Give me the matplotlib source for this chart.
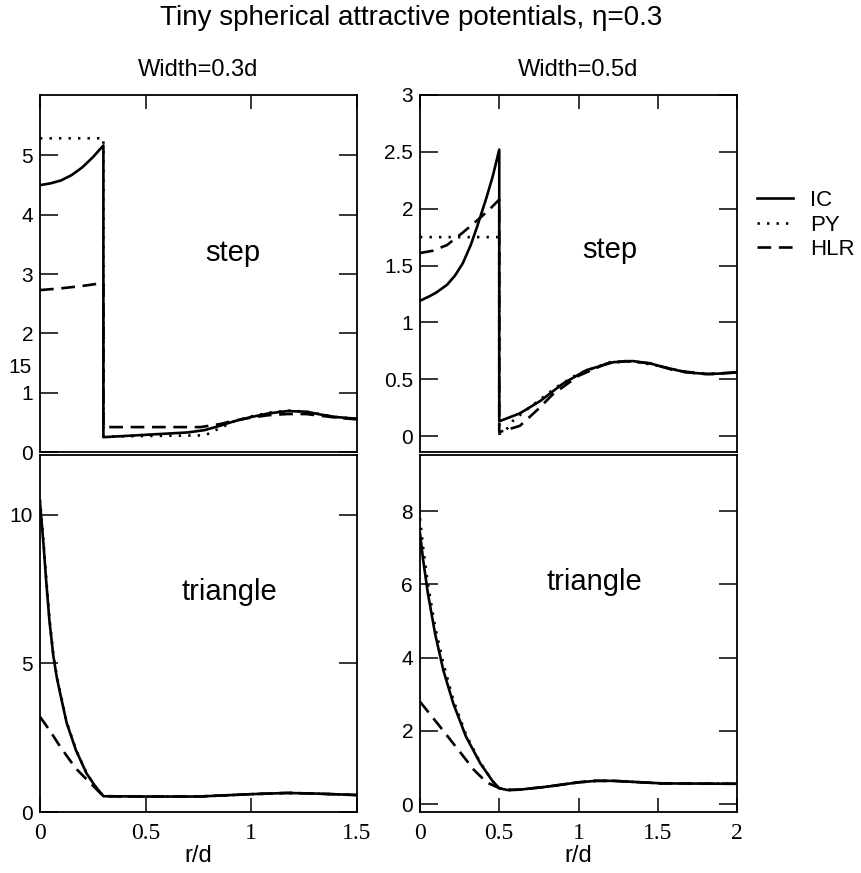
import matplotlib.pyplot as plt
from matplotlib.lines import Line2D

plt.rcParams['font.family'] = ['Liberation Sans', 'DejaVu Sans']

# ---- width 0.3d, step potential ----
r_s3_ic = [0, 0.05, 0.1, 0.15, 0.2, 0.25, 0.3, 0.3, 0.4, 0.5, 0.6, 0.7, 0.78, 0.85, 0.92, 1.0, 1.08, 1.17, 1.26, 1.33, 1.4, 1.5]
g_s3_ic = [4.50, 4.53, 4.58, 4.67, 4.80, 4.97, 5.17, 0.25, 0.27, 0.29, 0.31, 0.33, 0.37, 0.44, 0.52, 0.59, 0.65, 0.69, 0.68, 0.63, 0.59, 0.56]
r_s3_py = [0, 0.28, 0.3, 0.3, 0.5, 0.78, 0.85, 0.92, 1.0, 1.08, 1.17, 1.26, 1.4, 1.5]
g_s3_py = [5.29, 5.29, 5.29, 0.26, 0.27, 0.28, 0.40, 0.52, 0.60, 0.66, 0.70, 0.68, 0.59, 0.56]
r_s3_hlr = [0, 0.1, 0.2, 0.3, 0.3, 0.5, 0.76, 0.85, 0.92, 1.0, 1.08, 1.17, 1.26, 1.4, 1.5]
g_s3_hlr = [2.73, 2.76, 2.80, 2.85, 0.42, 0.42, 0.42, 0.47, 0.53, 0.58, 0.62, 0.64, 0.64, 0.58, 0.55]

# ---- width 0.5d, step potential ----
r_s5_ic = [0, 0.06, 0.1, 0.17, 0.22, 0.27, 0.32, 0.36, 0.42, 0.46, 0.5, 0.5, 0.63, 0.76, 0.9, 1.05, 1.22, 1.34, 1.45, 1.53, 1.68, 1.83, 2.0]
g_s5_ic = [1.19, 1.23, 1.26, 1.33, 1.41, 1.52, 1.68, 1.84, 2.10, 2.29, 2.52, 0.13, 0.20, 0.31, 0.46, 0.58, 0.65, 0.66, 0.64, 0.61, 0.56, 0.545, 0.56]
r_s5_py = [0, 0.5, 0.5, 0.5, 0.53, 0.59, 0.69, 0.86, 1.0, 1.2, 1.34, 1.53, 1.68, 1.83, 2.0]
g_s5_py = [1.75, 1.75, 0.06, 0.02, 0.03, 0.14, 0.25, 0.43, 0.55, 0.65, 0.66, 0.61, 0.56, 0.545, 0.56]
r_s5_hlr = [0, 0.08, 0.17, 0.27, 0.38, 0.45, 0.5, 0.5, 0.63, 0.74, 0.84, 1.0, 1.18, 1.3, 1.45, 1.6, 1.8, 2.0]
g_s5_hlr = [1.61, 1.63, 1.68, 1.79, 1.92, 2.01, 2.08, 0.035, 0.09, 0.23, 0.37, 0.53, 0.64, 0.66, 0.64, 0.58, 0.545, 0.56]

# ---- width 0.3d, triangle potential ----
r_t3_ic = [0, 0.016, 0.03, 0.045, 0.063, 0.08, 0.095, 0.126, 0.17, 0.22, 0.26, 0.3, 0.5, 0.75, 1.0, 1.17, 1.3, 1.5]
g_t3_ic = [10.4, 9.05, 7.7, 6.4, 5.25, 4.5, 4.0, 3.0, 2.08, 1.3, 0.88, 0.53, 0.52, 0.52, 0.60, 0.64, 0.62, 0.57]
r_t3_py = [0, 0.016, 0.03, 0.045, 0.063, 0.08, 0.095, 0.126, 0.17, 0.22, 0.26, 0.3, 0.5, 0.75, 1.0, 1.17, 1.3, 1.5]
g_t3_py = [10.5, 9.15, 7.8, 6.5, 5.3, 4.55, 4.05, 3.02, 2.1, 1.31, 0.88, 0.53, 0.52, 0.52, 0.60, 0.64, 0.62, 0.57]
r_t3_hlr = [0, 0.05, 0.095, 0.17, 0.24, 0.3, 0.5, 0.75, 1.0, 1.17, 1.3, 1.5]
g_t3_hlr = [3.2, 2.7, 2.2, 1.46, 0.96, 0.53, 0.52, 0.52, 0.60, 0.64, 0.62, 0.57]

# ---- width 0.5d, triangle potential ----
r_t5_ic = [0, 0.02, 0.05, 0.095, 0.147, 0.21, 0.29, 0.38, 0.46, 0.5, 0.55, 0.63, 0.8, 1.0, 1.11, 1.22, 1.53, 2.0]
g_t5_ic = [7.4, 6.66, 5.75, 4.66, 3.66, 2.75, 1.85, 1.12, 0.62, 0.44, 0.39, 0.40, 0.48, 0.60, 0.64, 0.64, 0.57, 0.56]
r_t5_py = [0, 0.02, 0.05, 0.095, 0.147, 0.21, 0.29, 0.38, 0.46, 0.5, 0.55, 0.63, 0.8, 1.0, 1.11, 1.22, 1.53, 2.0]
g_t5_py = [7.8, 7.0, 6.0, 4.85, 3.85, 2.85, 1.9, 1.14, 0.62, 0.44, 0.39, 0.40, 0.48, 0.60, 0.64, 0.64, 0.57, 0.56]
r_t5_hlr = [0, 0.126, 0.25, 0.34, 0.42, 0.5, 0.55, 0.63, 0.8, 1.0, 1.11, 1.22, 1.53, 2.0]
g_t5_hlr = [2.8, 2.12, 1.44, 0.94, 0.6, 0.44, 0.39, 0.40, 0.48, 0.60, 0.64, 0.64, 0.57, 0.56]

labels = ['IC', 'PY', 'HLR']

W, H = 862, 873
fig = plt.figure(figsize=(W / 100, H / 100), dpi=100)

def box(x0, y0, x1, y1):
    return [x0 / W, 1 - y1 / H, (x1 - x0) / W, (y1 - y0) / H]

ax1 = fig.add_axes(box(40, 95, 357, 452))
ax2 = fig.add_axes(box(420, 95, 737, 452))
ax3 = fig.add_axes(box(40, 455, 357, 812))
ax4 = fig.add_axes(box(420, 455, 737, 812))

lw = 1.9
def curves(ax, r_ic, g_ic, r_py, g_py, r_hlr, g_hlr):
    ax.plot(r_py, g_py, color='black', lw=lw, dashes=(0.9, 2.7))
    ax.plot(r_hlr, g_hlr, color='black', lw=lw, dashes=(5.2, 2.9))
    ax.plot(r_ic, g_ic, color='black', lw=lw)

curves(ax1, r_s3_ic, g_s3_ic, r_s3_py, g_s3_py, r_s3_hlr, g_s3_hlr)
curves(ax2, r_s5_ic, g_s5_ic, r_s5_py, g_s5_py, r_s5_hlr, g_s5_hlr)
curves(ax3, r_t3_ic, g_t3_ic, r_t3_py, g_t3_py, r_t3_hlr, g_t3_hlr)
curves(ax4, r_t5_ic, g_t5_ic, r_t5_py, g_t5_py, r_t5_hlr, g_t5_hlr)

def style(ax, xlim, ylim, xt, xl, yt, yl, top):
    ax.set_xlim(xlim)
    ax.set_ylim(ylim)
    ax.set_yticks(yt)
    ax.set_yticklabels(yl)
    ax.set_xticks(xt)
    for s in ax.spines.values():
        s.set_linewidth(1.3)
    ax.tick_params(axis='y', direction='in', length=13, width=1.1, left=True, right=True,
                   labelsize=15, pad=5)
    if top:
        ax.tick_params(axis='x', direction='in', length=10, width=1.1, top=True, bottom=False,
                       labelbottom=False)
    else:
        ax.tick_params(axis='x', direction='in', length=10, width=1.1, top=False, bottom=True, pad=8)
        ax.set_xticklabels(xl, fontfamily='Liberation Serif', fontsize=17)
        ax.set_xlabel('r/d', fontsize=17, labelpad=1)

style(ax1, (0, 1.5), (0, 6.02), [0, 0.5, 1, 1.5], None,
      [0, 1, 2, 3, 4, 5], ['0', '1', '2', '3', '4', '5'], True)
style(ax2, (0, 2), (-0.14, 3.0), [0, 0.5, 1, 1.5, 2], None,
      [0, 0.5, 1, 1.5, 2, 2.5, 3], ['0', '0.5', '1', '1.5', '2', '2.5', '3'], True)
style(ax3, (0, 1.5), (0, 12.0), [0, 0.5, 1, 1.5], ['0', '0.5', '1', '1.5'],
      [0, 5, 10], ['0', '5', '10'], False)
style(ax4, (0, 2), (-0.21, 9.53), [0, 0.5, 1, 1.5, 2], ['0', '0.5', '1', '1.5', '2'],
      [0, 2, 4, 6, 8], ['0', '2', '4', '6', '8'], False)

# stray label seen on the left axis of the first panel
ax1.text(-0.027, 1.42, '15', transform=ax1.get_yaxis_transform(), ha='right', va='center', fontsize=15)

ax1.text(0.91, 3.35, 'step', ha='center', va='center', fontsize=21)
ax2.text(1.2, 1.64, 'step', ha='center', va='center', fontsize=21)
ax3.text(0.895, 7.4, 'triangle', ha='center', va='center', fontsize=21)
ax4.text(1.1, 6.06, 'triangle', ha='center', va='center', fontsize=21)

ax1.set_title('Width=0.3d', fontsize=17, pad=14)
ax2.set_title('Width=0.5d', fontsize=17, pad=14)
fig.text(411 / W, 1 - 18 / H, 'Tiny spherical attractive potentials, \u03b7=0.3',
         ha='center', va='center', fontsize=20)

handles = [Line2D([], [], color='black', lw=lw),
           Line2D([], [], color='black', lw=lw, dashes=(0.9, 2.7)),
           Line2D([], [], color='black', lw=lw, dashes=(5.2, 2.9))]
fig.legend(handles, labels, loc='center left', bbox_to_anchor=(757 / W, 1 - 225 / H),
           frameon=False, fontsize=16, handlelength=1.6, handletextpad=0.8,
           labelspacing=0.15, borderpad=0, borderaxespad=0)

fig.savefig('out.png', dpi=100)
